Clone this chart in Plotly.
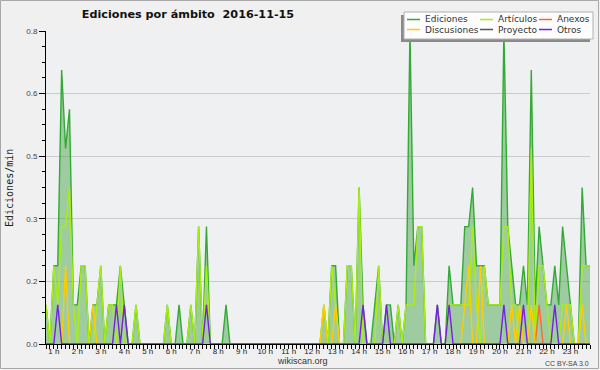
import plotly.graph_objects as go

# 10-minute bins, values in edits per minute
ediciones = [
    0.1, 0, 0.2, 0.2, 0.7, 0.5, 0.6, 0.1, 0.1, 0.2,
    0.2, 0, 0.1, 0.1, 0.2, 0, 0.1, 0.1, 0.1, 0.2,
    0.1, 0, 0, 0.1, 0, 0, 0, 0, 0, 0,
    0, 0.1, 0, 0, 0.1, 0, 0, 0.1, 0, 0.3,
    0, 0.3, 0, 0, 0, 0, 0.1, 0, 0, 0,
    0, 0, 0, 0, 0, 0, 0, 0, 0, 0,
    0, 0, 0, 0, 0, 0, 0, 0, 0, 0,
    0, 0.1, 0, 0.2, 0.2, 0, 0, 0.2, 0.2, 0,
    0.4, 0.1, 0, 0, 0.1, 0.2, 0, 0.1, 0.1, 0,
    0.1, 0, 0.1, 0.8, 0.2, 0.3, 0.3, 0, 0, 0,
    0.1, 0, 0, 0.2, 0.1, 0.1, 0.1, 0.3, 0.3, 0.4,
    0.2, 0.2, 0.2, 0.1, 0.1, 0.1, 0.1, 0.8, 0.3, 0.2,
    0.1, 0.1, 0.2, 0.1, 0.7, 0.1, 0.3, 0.2, 0.1, 0.1,
    0.2, 0.1, 0.3, 0.2, 0.1, 0, 0, 0.4, 0.2, 0.2,
]
articulos = [
    0.1, 0, 0.2, 0.1, 0.3, 0.3, 0.4, 0.1, 0, 0.2,
    0.2, 0, 0, 0.1, 0.2, 0, 0.1, 0.1, 0, 0.2,
    0, 0, 0, 0.1, 0, 0, 0, 0, 0, 0,
    0, 0.1, 0, 0, 0, 0, 0, 0.1, 0, 0.3,
    0, 0.2, 0, 0, 0, 0, 0, 0, 0, 0,
    0, 0, 0, 0, 0, 0, 0, 0, 0, 0,
    0, 0, 0, 0, 0, 0, 0, 0, 0, 0,
    0, 0.1, 0, 0.2, 0.1, 0, 0, 0.2, 0.2, 0,
    0.4, 0, 0, 0, 0, 0.2, 0, 0, 0, 0,
    0.1, 0, 0.1, 0.1, 0.1, 0.3, 0.3, 0, 0, 0,
    0, 0, 0, 0.1, 0.1, 0.1, 0.1, 0.1, 0.1, 0.3,
    0.1, 0, 0.2, 0.1, 0.1, 0.1, 0.1, 0.3, 0.3, 0.1,
    0.1, 0, 0, 0, 0.5, 0, 0.2, 0.2, 0.1, 0,
    0, 0, 0.1, 0.1, 0.1, 0, 0, 0.2, 0.2, 0.2,
]
anexos = [
    0, 0, 0, 0, 0, 0, 0, 0, 0, 0,
    0, 0, 0, 0, 0, 0, 0, 0, 0, 0,
    0, 0, 0, 0, 0, 0, 0, 0, 0, 0,
    0, 0, 0, 0, 0, 0, 0, 0, 0, 0,
    0, 0, 0, 0, 0, 0, 0, 0, 0, 0,
    0, 0, 0, 0, 0, 0, 0, 0, 0, 0,
    0, 0, 0, 0, 0, 0, 0, 0, 0, 0,
    0, 0, 0, 0, 0, 0, 0, 0, 0, 0,
    0, 0, 0, 0, 0, 0, 0, 0, 0, 0,
    0, 0, 0, 0, 0, 0, 0, 0, 0, 0,
    0, 0, 0, 0, 0, 0, 0, 0, 0, 0,
    0, 0, 0, 0, 0, 0, 0, 0, 0, 0,
    0, 0, 0, 0, 0, 0, 0.1, 0, 0, 0,
    0, 0, 0, 0, 0, 0, 0, 0, 0, 0,
]
discusiones = [
    0, 0, 0, 0, 0, 0.2, 0, 0, 0, 0,
    0, 0, 0.1, 0, 0, 0, 0, 0, 0, 0,
    0, 0, 0, 0, 0, 0, 0, 0, 0, 0,
    0, 0, 0, 0, 0, 0, 0, 0, 0, 0,
    0, 0, 0, 0, 0, 0, 0, 0, 0, 0,
    0, 0, 0, 0, 0, 0, 0, 0, 0, 0,
    0, 0, 0, 0, 0, 0, 0, 0, 0, 0,
    0, 0.1, 0, 0, 0.1, 0, 0, 0, 0, 0,
    0, 0, 0, 0, 0, 0, 0, 0, 0, 0,
    0, 0, 0, 0, 0, 0, 0, 0, 0, 0,
    0, 0, 0, 0, 0, 0, 0, 0.1, 0.2, 0,
    0, 0.2, 0, 0, 0, 0, 0, 0, 0, 0.1,
    0, 0.1, 0, 0, 0.1, 0, 0, 0, 0, 0,
    0, 0, 0, 0.1, 0, 0, 0, 0.1, 0, 0,
]
proyecto = [
    0, 0, 0, 0, 0, 0, 0, 0, 0, 0,
    0, 0, 0, 0, 0, 0, 0, 0, 0, 0,
    0, 0, 0, 0, 0, 0, 0, 0, 0, 0,
    0, 0, 0, 0, 0, 0, 0, 0, 0, 0,
    0, 0, 0, 0, 0, 0, 0, 0, 0, 0,
    0, 0, 0, 0, 0, 0, 0, 0, 0, 0,
    0, 0, 0, 0, 0, 0, 0, 0, 0, 0,
    0, 0, 0, 0, 0, 0, 0, 0, 0, 0,
    0, 0, 0, 0, 0, 0, 0, 0, 0, 0,
    0, 0, 0, 0, 0, 0, 0, 0, 0, 0,
    0, 0, 0, 0, 0, 0, 0, 0, 0, 0,
    0, 0, 0, 0, 0, 0, 0, 0, 0, 0,
    0, 0, 0, 0, 0, 0, 0, 0, 0, 0,
    0, 0, 0, 0, 0, 0, 0, 0, 0, 0,
]
otros = [
    0, 0, 0, 0.1, 0, 0, 0, 0, 0, 0,
    0, 0, 0, 0, 0, 0, 0, 0, 0.1, 0,
    0.1, 0, 0, 0, 0, 0, 0, 0, 0, 0,
    0, 0, 0, 0, 0, 0, 0, 0, 0, 0,
    0, 0.1, 0, 0, 0, 0, 0, 0, 0, 0,
    0, 0, 0, 0, 0, 0, 0, 0, 0, 0,
    0, 0, 0, 0, 0, 0, 0, 0, 0, 0,
    0, 0, 0, 0, 0, 0, 0, 0, 0, 0,
    0, 0.1, 0, 0, 0, 0, 0, 0.1, 0, 0,
    0, 0, 0, 0, 0, 0, 0, 0, 0, 0,
    0.1, 0, 0, 0.1, 0, 0, 0, 0, 0, 0,
    0, 0, 0, 0, 0, 0, 0, 0.1, 0, 0,
    0, 0, 0.1, 0, 0, 0, 0, 0, 0, 0,
    0.1, 0, 0, 0, 0, 0, 0, 0, 0, 0,
]

hour_labels = ["1 h", "2 h", "3 h", "4 h", "5 h", "6 h", "7 h", "8 h", "9 h", "10 h",
               "11 h", "12 h", "13 h", "14 h", "15 h", "16 h", "17 h", "18 h", "19 h",
               "20 h", "21 h", "22 h", "23 h"]
y_tick_vals = [0, 0.16, 0.32, 0.48, 0.64, 0.8]
y_tick_text = ["0.0", "0.2", "0.3", "0.5", "0.6", "0.8"]

bins = list(range(len(ediciones)))
hour_bins = [6 * (k + 1) - 4 for k in range(len(hour_labels))]

series = [
    ("Ediciones", ediciones, "#33aa33"),
    ("Artículos", articulos, "#aaee11"),
    ("Anexos", anexos, "#ff6633"),
    ("Discusiones", discusiones, "#ffcc00"),
    ("Proyecto", proyecto, "#555555"),
    ("Otros", otros, "#7722dd"),
]
colors = {n: c for n, _, c in series}

W, H = 600, 370
L, R, T, B = 46, 10, 31, 26
PW, PH = W - L - R, H - T - B


def px(x):
    return (x - L) / PW


def py(y):
    return (H - B - y) / PH


fig = go.Figure()
fig.add_trace(go.Scatter(x=bins, y=ediciones, mode="lines", fill="tozeroy",
                         fillcolor="rgba(60,160,60,0.45)", line=dict(width=0, color="#33aa33"),
                         showlegend=False, hoverinfo="skip"))
draw_order = ["Ediciones", "Proyecto", "Artículos", "Anexos", "Discusiones", "Otros"]
data_map = {n: v for n, v, _ in series}
for name in draw_order:
    fig.add_trace(go.Scatter(x=bins, y=data_map[name], mode="lines", name=name,
                             line=dict(color=colors[name], width=1.4),
                             showlegend=False))

shapes = []
annotations = []

# outer border
shapes.append(dict(type="rect", xref="paper", yref="paper", x0=px(0.5), x1=px(598.5),
                   y0=py(0.5), y1=py(368.5), line=dict(color="#a8a8a8", width=1),
                   fillcolor="rgba(0,0,0,0)", layer="below"))

# legend box with shadow
shapes.append(dict(type="rect", xref="paper", yref="paper", x0=px(401), x1=px(590),
                   y0=py(15), y1=py(42), line=dict(width=0), fillcolor="#8a8a8a", layer="above"))
shapes.append(dict(type="rect", xref="paper", yref="paper", x0=px(404), x1=px(593),
                   y0=py(12), y1=py(39), line=dict(color="#b0b0b0", width=1),
                   fillcolor="#fdfdfd", layer="above"))

legend_layout = [
    ("Ediciones", 407, 19.5), ("Artículos", 480, 19.5), ("Anexos", 539, 19.5),
    ("Discusiones", 407, 29.5), ("Proyecto", 480, 29.5), ("Otros", 539, 29.5),
]
for name, lx, ly in legend_layout:
    shapes.append(dict(type="line", xref="paper", yref="paper", x0=px(lx), x1=px(lx + 13),
                       y0=py(ly), y1=py(ly), line=dict(color=colors[name], width=1.5),
                       layer="above"))
    annotations.append(dict(text=name, xref="paper", yref="paper", x=px(lx + 16), y=py(ly),
                            xanchor="left", yanchor="middle", showarrow=False,
                            font=dict(family="DejaVu Sans", size=9, color="#333333")))

annotations.append(dict(text="Ediciones/min", xref="paper", yref="paper", x=px(9), y=py(188),
                        textangle=-90, xanchor="center", yanchor="middle", showarrow=False,
                        font=dict(family="DejaVu Sans Mono", size=10, color="#222222")))
annotations.append(dict(text="wikiscan.org", xref="paper", yref="paper", x=px(302), y=py(361.5),
                        xanchor="center", yanchor="middle", showarrow=False,
                        font=dict(family="Liberation Sans", size=9, color="#333333")))
annotations.append(dict(text="CC BY-SA 3.0", xref="paper", yref="paper", x=px(591), y=py(363),
                        xanchor="right", yanchor="middle", showarrow=False,
                        font=dict(family="Liberation Sans", size=7, color="#444444")))

fig.update_layout(
    width=W, height=H,
    margin=dict(l=L, r=R, t=T, b=B, pad=0),
    paper_bgcolor="#f0f0f0",
    plot_bgcolor="#eef0f2",
    title=dict(text="<b>Ediciones por ámbito  2016-11-15</b>", xref="container", yref="container",
               x=188 / W, y=1 - 14 / H, xanchor="center", yanchor="middle",
               font=dict(family="DejaVu Sans", size=11.2, color="#111111")),
    xaxis=dict(range=[0, len(ediciones) - 1], tickmode="array", tickvals=hour_bins,
               ticktext=hour_labels, ticks="outside", ticklen=4, tickcolor="black",
               ticklabelstandoff=-5,
               showline=True, linecolor="black", linewidth=1, showgrid=False, zeroline=False,
               tickfont=dict(family="Liberation Sans", size=8, color="#222222"),
               minor=dict(tickmode="linear", tick0=0, dtick=1, ticks="outside", ticklen=4,
                          tickcolor="black", showgrid=False)),
    yaxis=dict(range=[0, 0.8], tickmode="array", tickvals=y_tick_vals, ticktext=y_tick_text,
               ticks="outside", ticklen=6, tickcolor="black", showline=True, linecolor="black",
               linewidth=1, showgrid=True, gridcolor="#cccccc", gridwidth=1, zeroline=False,
               tickfont=dict(family="Liberation Sans", size=8, color="#444444"),
               minor=dict(tickmode="linear", tick0=0, dtick=0.04, ticks="outside", ticklen=3,
                          tickcolor="black", showgrid=False)),
    shapes=shapes,
    annotations=annotations,
    showlegend=False,
)

fig.write_html("out.html", config={"displayModeBar": False},
               post_script="document.body.style.margin='0px';document.body.style.overflow='hidden';")
